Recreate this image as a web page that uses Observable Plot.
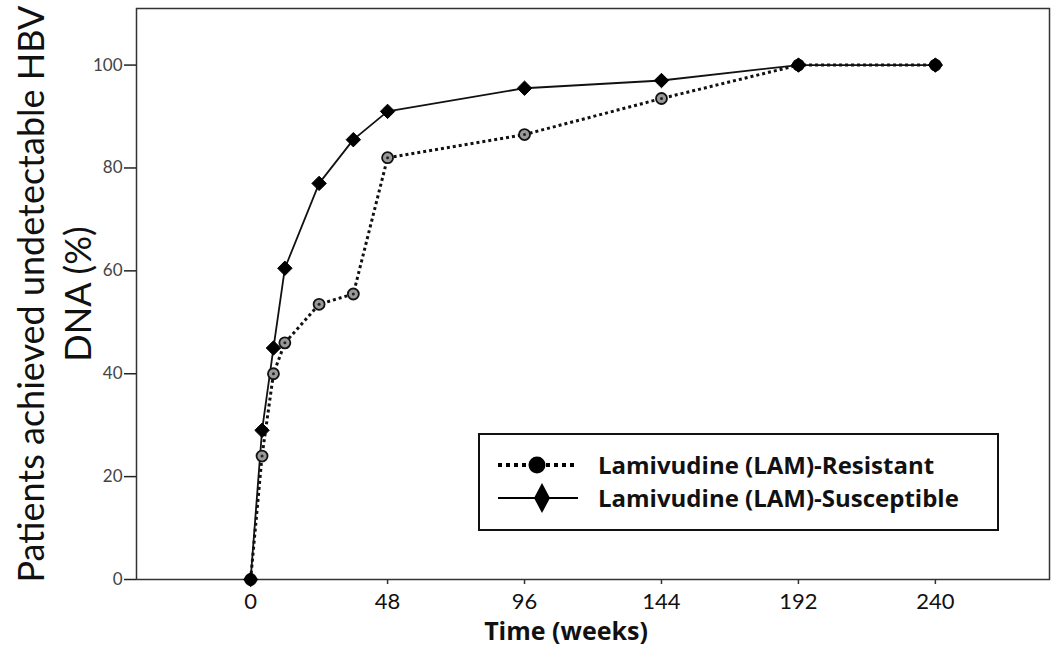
<!DOCTYPE html>
<html>
<head>
<meta charset="utf-8">
<script src="https://cdn.jsdelivr.net/npm/d3@7"></script>
<script src="https://cdn.jsdelivr.net/npm/@observablehq/plot@0.6"></script>
<style>
  html, body { margin: 0; padding: 0; background: #fff; }
  #wrap { position: relative; width: 1057px; height: 657px; }
  #legend { position: absolute; left: 478px; top: 433px; }
  g[aria-label="y-axis tick label"] text { fill: #444; }
</style>
</head>
<body>
<div id="wrap"></div>
<script>
const weeks = [0, 4, 8, 12, 24, 36, 48, 96, 144, 192, 240];
const resistantValues = [0, 24, 40, 46, 53.5, 55.5, 82, 86.5, 93.5, 100, 100];
const susceptibleValues = [0, 29, 45, 60.5, 77, 85.5, 91, 95.5, 97, 100, 100];
const xTicks = [0, 48, 96, 144, 192, 240];
const yTicks = [0, 20, 40, 60, 80, 100];
const seriesNames = ["Lamivudine (LAM)-Resistant", "Lamivudine (LAM)-Susceptible"];
const yLabel = "Patients achieved undetectable HBV\nDNA (%)";
const xLabel = "Time (weeks)";

const resistant = weeks.map((w, i) => ({week: w, pct: resistantValues[i]}));
const susceptible = weeks.map((w, i) => ({week: w, pct: susceptibleValues[i]}));

const font = "Lato, 'Open Sans', sans-serif";
const boldFont = "'Open Sans', Lato, sans-serif";

const chart = Plot.plot({
  width: 1057,
  height: 657,
  marginLeft: 136,
  marginRight: 8,
  marginTop: 8,
  marginBottom: 78,
  style: {fontFamily: font, background: "white", color: "#111"},
  x: {domain: [-40, 280]},
  y: {domain: [0, 111]},
  marks: [
    Plot.axisY({ticks: yTicks, tickSize: 12, tickPadding: 2, fontSize: 17, label: null, stroke: "#222", strokeWidth: 1.5}),
    Plot.axisX({ticks: xTicks, tickSize: 5, tickPadding: 9, fontSize: 22, label: null, stroke: "#333", strokeWidth: 1.5}),
    Plot.frame({stroke: "#333", strokeWidth: 1.5}),
    Plot.line(resistant, {x: "week", y: "pct", stroke: "#111", strokeWidth: 3, strokeDasharray: "3,3", strokeLinecap: "butt"}),
    Plot.line(susceptible, {x: "week", y: "pct", stroke: "#111", strokeWidth: 1.8}),
    Plot.dot(resistant, {x: "week", y: "pct", r: 5.5, fill: "#999", stroke: "#111", strokeWidth: 1.8}),
    Plot.dot(resistant, {x: "week", y: "pct", r: 1.5, fill: "#222", stroke: "none"}),
    Plot.dot(susceptible, {x: "week", y: "pct", symbol: "diamond2", r: 6.5, fill: "#000", stroke: "#000", strokeWidth: 1}),
    Plot.text([yLabel], {frameAnchor: "left", rotate: -90, dx: -84, fontSize: 36, lineHeight: 1.3, textAnchor: "middle", fill: "#111"}),
    Plot.text([xLabel], {frameAnchor: "bottom", dy: 60, dx: -27, fontSize: 25, fontWeight: "bold", fontFamily: boldFont, textAnchor: "middle", fill: "#111"})
  ]
});
document.getElementById("wrap").appendChild(chart);

// Legend
const lg = d3.select("#wrap").append("svg")
  .attr("id", "legend").attr("width", 522).attr("height", 100)
  .style("font-family", boldFont);
lg.append("rect").attr("x", 1).attr("y", 1).attr("width", 519).attr("height", 96)
  .attr("fill", "white").attr("stroke", "#111").attr("stroke-width", 2);
const rows = [32, 65];
// row 1: dotted + circle
lg.append("line").attr("x1", 20).attr("x2", 100).attr("y1", rows[0]).attr("y2", rows[0])
  .attr("stroke", "#000").attr("stroke-width", 4).attr("stroke-dasharray", "4,4");
lg.append("circle").attr("cx", 59).attr("cy", rows[0]).attr("r", 8.5).attr("fill", "#000");
// row 2: solid + diamond
lg.append("line").attr("x1", 20).attr("x2", 100).attr("y1", rows[1]).attr("y2", rows[1])
  .attr("stroke", "#000").attr("stroke-width", 2);
lg.append("path").attr("d", `M64,${rows[1]-15}L72,${rows[1]}L64,${rows[1]+15}L56,${rows[1]}Z`).attr("fill", "#000");
seriesNames.forEach((name, i) => {
  lg.append("text").attr("x", 120).attr("y", rows[i]).attr("dy", "0.36em")
    .attr("font-size", 24).attr("font-weight", "bold").attr("fill", "#111").text(name);
});
</script>
</body>
</html>
